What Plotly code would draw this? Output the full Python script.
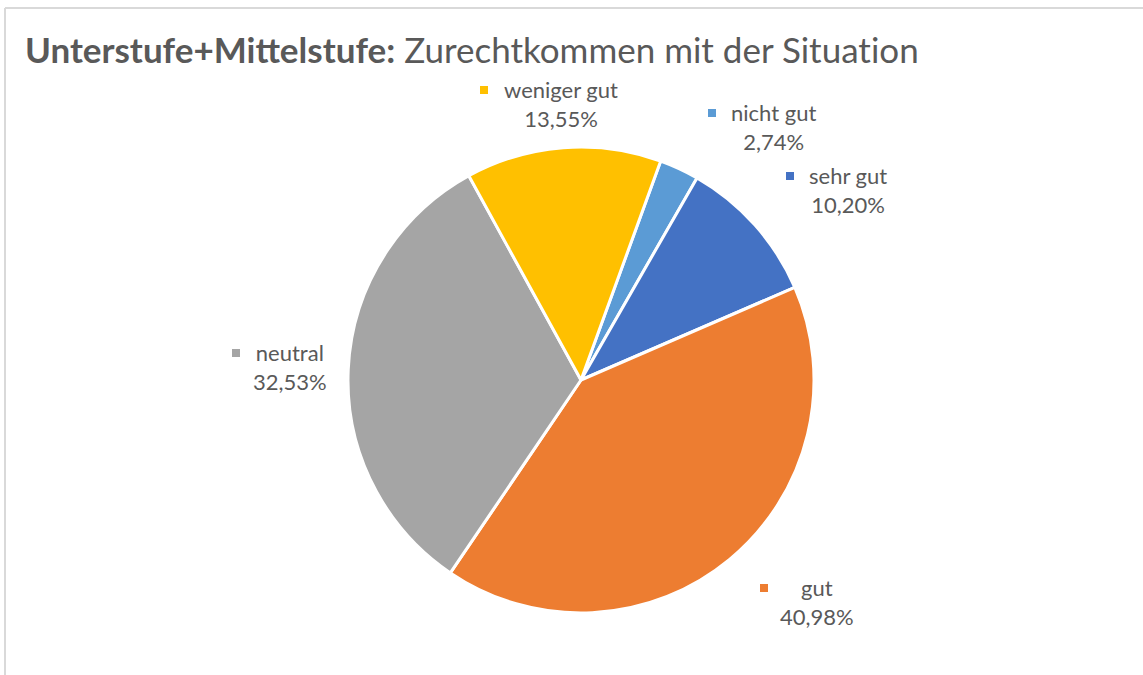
import plotly.graph_objects as go

W, H = 1143, 675

labels = ["nicht gut", "sehr gut", "gut", "neutral", "weniger gut"]
values = [2.74, 10.20, 40.98, 32.53, 13.55]
colors = ["#5B9BD5", "#4472C4", "#ED7D31", "#A5A5A5", "#FFC000"]

# label block placement (pixels): text centre x, text centre y, legend key x
label_pos = {
    "nicht gut": (773, 127, 712),
    "sehr gut": (848, 190, 790),
    "gut": (817, 602, 764),
    "neutral": (290, 367, 236),
    "weniger gut": (561, 104, 484),
}


def px(x, y):
    return x / W, 1 - y / H


cx, cy, r = 581, 380, 233
x0, y0 = px(cx - r, cy + r)
x1, y1 = px(cx + r, cy - r)

fig = go.Figure(go.Pie(
    labels=labels,
    values=values,
    sort=False,
    direction="clockwise",
    rotation=20,
    marker=dict(colors=colors, line=dict(color="white", width=3)),
    textinfo="none",
    hoverinfo="label+percent",
    domain=dict(x=[x0, x1], y=[y0, y1]),
    showlegend=False,
))

annotations = []
shapes = []
for lab, val, col in zip(labels, values, colors):
    tx, ty, kx = label_pos[lab]
    ax, ay = px(tx, ty)
    annotations.append(dict(
        x=ax, y=ay, xref="paper", yref="paper",
        xanchor="center", yanchor="middle",
        text=f"{lab}<br>{val:.2f}%".replace(".", ","),
        showarrow=False, align="center",
        font=dict(family="Lato", size=22, color="#595959"),
    ))
    ky = ty - 14
    shapes.append(dict(
        type="rect", xref="paper", yref="paper",
        x0=(kx - 4) / W, x1=(kx + 4) / W,
        y0=1 - (ky + 4) / H, y1=1 - (ky - 4) / H,
        fillcolor=col, line=dict(width=0),
    ))

# chart frame
shapes.append(dict(type="line", xref="paper", yref="paper",
                   x0=5 / W, x1=1, y0=1 - 8 / H, y1=1 - 8 / H,
                   line=dict(color="#D9D9D9", width=2)))
shapes.append(dict(type="line", xref="paper", yref="paper",
                   x0=5 / W, x1=5 / W, y0=0, y1=1 - 8 / H,
                   line=dict(color="#D9D9D9", width=2)))

# zero-width non-joiner keeps Lato from drawing its "ti" ligature
title_text = "<b>Unterstufe+Mittelstufe:</b> Zurechtkommen mit der Situat\u200cion"

fig.update_layout(
    width=W, height=H,
    margin=dict(l=0, r=0, t=0, b=0),
    paper_bgcolor="white",
    title=dict(
        text=title_text,
        x=25 / W, xanchor="left", y=1 - 51 / H, yanchor="middle",
        font=dict(family="Lato", size=35, color="#595959"),
    ),
    annotations=annotations,
    shapes=shapes,
)

fig.write_html("out.html", config={"displayModeBar": False},
               post_script="document.body.style.margin='0';")
